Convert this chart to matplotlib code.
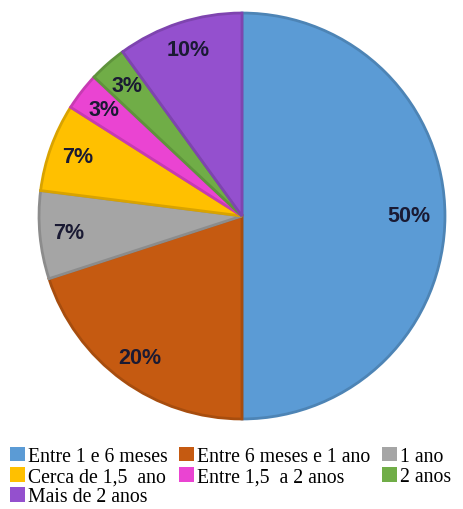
import matplotlib
matplotlib.use('Agg')
import matplotlib.pyplot as plt
import matplotlib.colors as mcolors

labels = ['Entre 1 e 6 meses', 'Entre 6 meses e 1 ano', '1 ano', 'Cerca de 1,5  ano',
          'Entre 1,5  a 2 anos', '2 anos', 'Mais de 2 anos']
percents = [50, 20, 7, 7, 3, 3, 10]
colors = ['#5B9BD5', '#C55A11', '#A5A5A5', '#FFC000', '#EA44D2', '#70AD47', '#9450CE']

# slightly darker outline for each wedge
edges = [tuple(c * 0.85 for c in mcolors.to_rgb(col)) for col in colors]

fig = plt.figure(figsize=(4.64, 5.10), dpi=100)
ax = fig.add_axes([37/464, 1 - 422/510, 410/464, 410/510])

wedges, texts, autotexts = ax.pie(percents, colors=colors, startangle=90, counterclock=False,
                                  autopct='%d%%', pctdistance=0.86,
                                  wedgeprops=dict(linewidth=2))
for w, ec in zip(wedges, edges):
    w.set_edgecolor(ec)
for t in autotexts:
    t.set_fontsize(15.5)
    t.set_fontweight('bold')
    t.set_color('#1a1a33')
    t.set_family('Liberation Sans')
autotexts[0].set_position((0.82, 0))

ax.set_xlim(-1.01, 1.01)
ax.set_ylim(-1.01, 1.01)
ax.set_aspect('equal')

# legend is filled column by column, so reorder to read row by row
order = [0, 3, 6, 1, 4, 2, 5]
leg = fig.legend([wedges[i] for i in order], [labels[i] for i in order],
                 ncol=3, loc='upper left', bbox_to_anchor=(10/464, 1 - 448/510),
                 frameon=False, handlelength=0.75, handleheight=0.75, handletextpad=0.15,
                 columnspacing=0.6, labelspacing=0.05, borderaxespad=0, borderpad=0,
                 prop={'family': 'Liberation Serif', 'size': 14.2})
for h in leg.legend_handles:
    h.set_linewidth(0)

fig.savefig('out.png', dpi=100, facecolor='white')
